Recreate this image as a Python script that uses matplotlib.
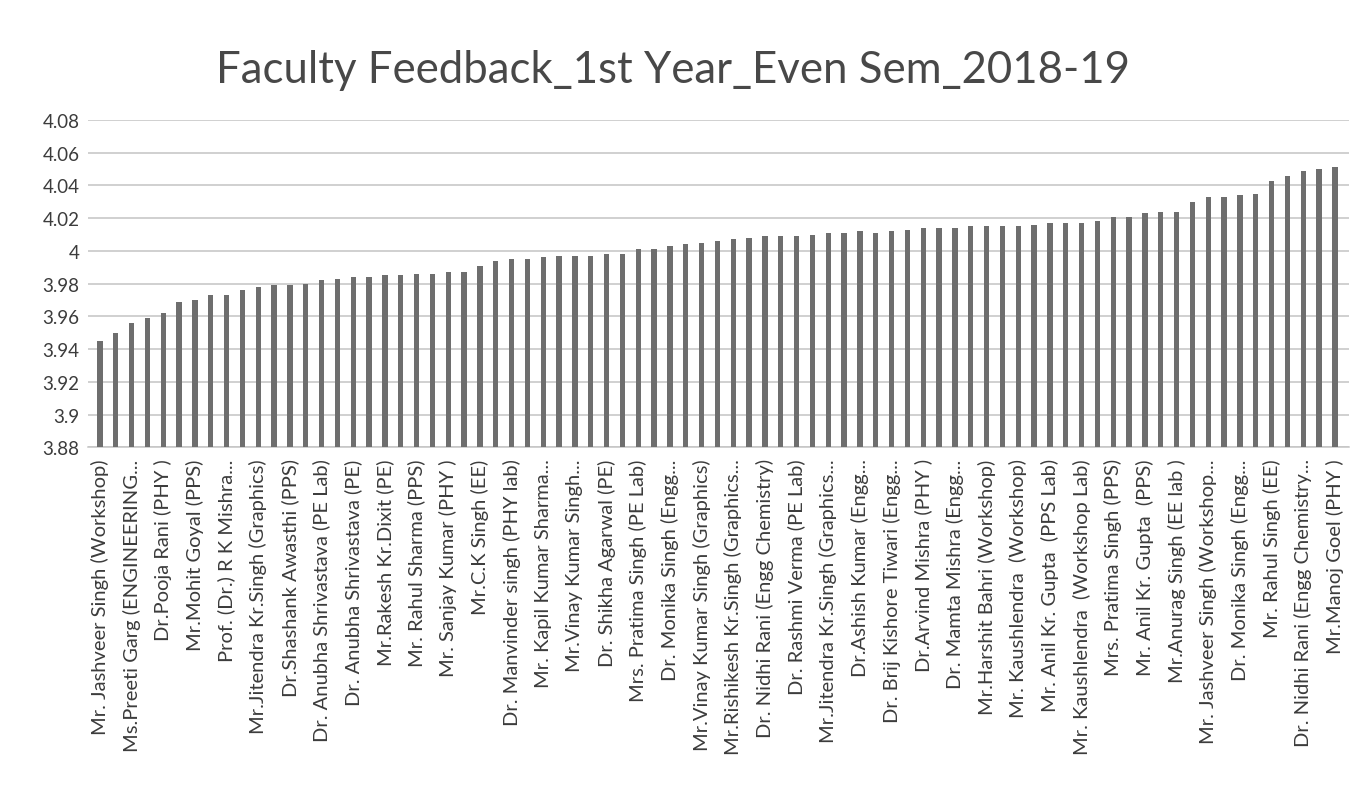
import matplotlib
matplotlib.use("Agg")
import matplotlib.pyplot as plt
import numpy as np

# average feedback score per faculty entry, sorted ascending
scores = [
    3.945, 3.950, 3.956, 3.959, 3.962, 3.969, 3.970, 3.973, 3.973, 3.976,
    3.978, 3.979, 3.979, 3.980, 3.982, 3.983, 3.984, 3.984, 3.985, 3.985,
    3.986, 3.986, 3.987, 3.987, 3.991, 3.994, 3.995, 3.995, 3.996, 3.997,
    3.997, 3.997, 3.998, 3.998, 4.001, 4.001, 4.003, 4.004, 4.005, 4.006,
    4.007, 4.008, 4.009, 4.009, 4.009, 4.010, 4.011, 4.011, 4.012, 4.011,
    4.012, 4.013, 4.014, 4.014, 4.014, 4.015, 4.015, 4.015, 4.015, 4.016,
    4.017, 4.017, 4.017, 4.018, 4.021, 4.021, 4.023, 4.024, 4.024, 4.030,
    4.033, 4.033, 4.034, 4.035, 4.043, 4.046, 4.049, 4.050, 4.051,
]

# only every second category gets a visible label
shown_labels = [
    "Mr. Jashveer Singh (Workshop)",
    "Ms.Preeti Garg (ENGINEERING...",
    "Dr.Pooja Rani (PHY )",
    "Mr.Mohit Goyal (PPS)",
    "Prof. (Dr.) R K Mishra...",
    "Mr.Jitendra Kr.Singh (Graphics)",
    "Dr.Shashank Awasthi (PPS)",
    "Dr. Anubha Shrivastava (PE Lab)",
    "Dr. Anubha Shrivastava (PE)",
    "Mr.Rakesh Kr.Dixit (PE)",
    "Mr. Rahul Sharma (PPS)",
    "Mr. Sanjay Kumar (PHY )",
    "Mr.C.K Singh (EE)",
    "Dr. Manvinder singh (PHY lab)",
    "Mr. Kapil Kumar Sharma...",
    "Mr.Vinay Kumar Singh...",
    "Dr. Shikha Agarwal (PE)",
    "Mrs. Pratima Singh (PE Lab)",
    "Dr. Monika Singh (Engg...",
    "Mr.Vinay Kumar Singh (Graphics)",
    "Mr.Rishikesh Kr.Singh (Graphics...",
    "Dr. Nidhi Rani (Engg Chemistry)",
    "Dr. Rashmi Verma (PE Lab)",
    "Mr.Jitendra Kr.Singh (Graphics...",
    "Dr.Ashish Kumar (Engg...",
    "Dr. Brij Kishore Tiwari (Engg...",
    "Dr.Arvind Mishra (PHY )",
    "Dr. Mamta Mishra (Engg...",
    "Mr.Harshit Bahri (Workshop)",
    "Mr. Kaushlendra  (Workshop)",
    "Mr. Anil Kr. Gupta  (PPS Lab)",
    "Mr. Kaushlendra  (Workshop Lab)",
    "Mrs. Pratima Singh (PPS)",
    "Mr. Anil Kr. Gupta  (PPS)",
    "Mr.Anurag Singh (EE lab )",
    "Mr. Jashveer Singh (Workshop...",
    "Dr. Monika Singh (Engg...",
    "Mr. Rahul Singh (EE)",
    "Dr. Nidhi Rani (Engg Chemistry...",
    "Mr.Manoj Goel (PHY )",
]

y_ticks = [3.88, 3.9, 3.92, 3.94, 3.96, 3.98, 4.0, 4.02, 4.04, 4.06, 4.08]
y_tick_text = ["3.88", "3.9", "3.92", "3.94", "3.96", "3.98", "4",
               "4.02", "4.04", "4.06", "4.08"]

plt.rcParams["font.family"] = ["Lato", "DejaVu Sans"]
TEXT = "#3c3c3c"

fig = plt.figure(figsize=(13.62, 8.12), dpi=100, facecolor="white")
ax = fig.add_axes([0.0646, 0.448, 0.926, 0.403])

x = np.arange(len(scores))
ax.bar(x, scores, width=0.34, color="#6e6e6e", zorder=3)

ax.set_ylim(3.88, 4.08)
ax.set_xlim(-0.75, len(scores) - 0.1)
ax.set_yticks(y_ticks)
ax.set_yticklabels(y_tick_text, fontsize=13.5, color=TEXT)
ax.grid(axis="y", color="#c4c4c4", linewidth=1.1, zorder=0)

ax.set_xticks(x[::2])
ax.set_xticklabels(shown_labels, rotation=90, fontsize=14.5, color=TEXT)
ax.tick_params(axis="both", length=0, pad=6)
ax.tick_params(axis="x", pad=8)

for side in ("top", "right", "left"):
    ax.spines[side].set_visible(False)
ax.spines["bottom"].set_color("#c4c4c4")
ax.spines["bottom"].set_linewidth(1.1)

fig.text(0.494, 0.913, "Faculty Feedback_1st Year_Even Sem_2018-19",
         ha="center", va="center", fontsize=31.5, color="#484848")

fig.savefig("out.png", dpi=100, facecolor="white")
